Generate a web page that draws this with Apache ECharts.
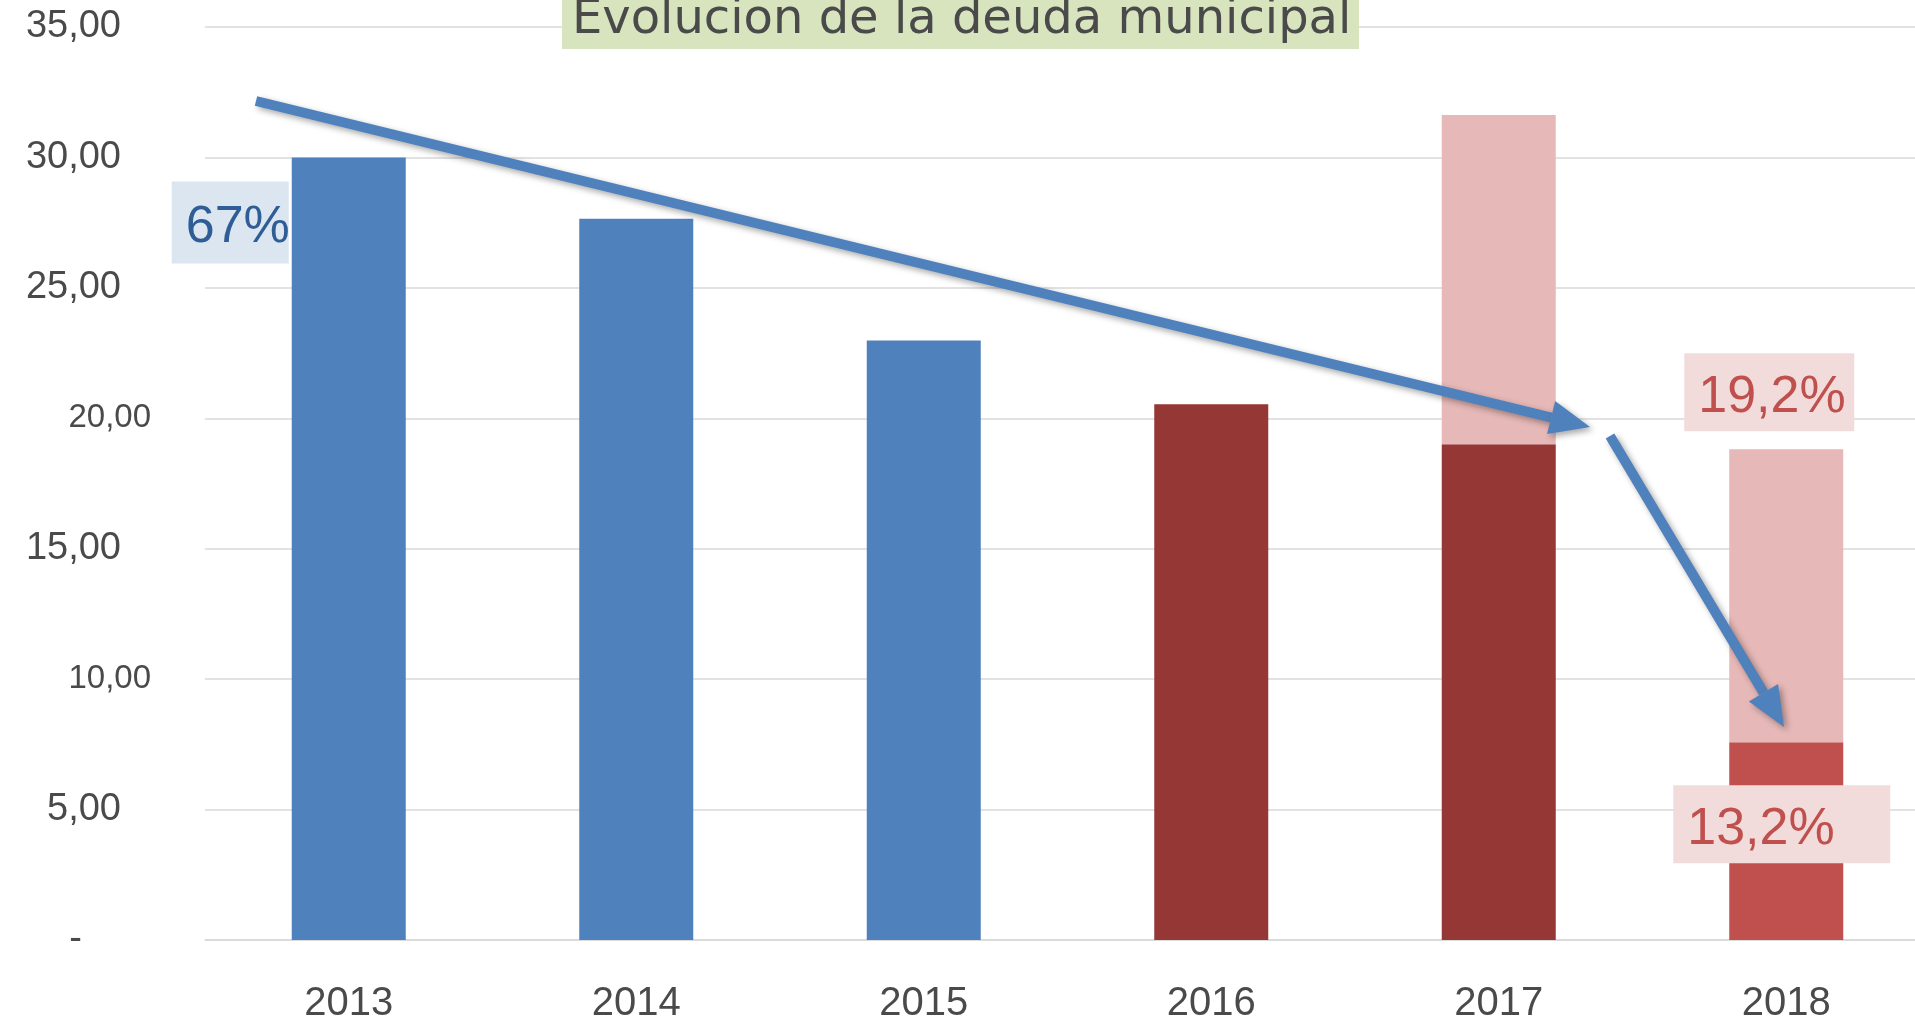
<!DOCTYPE html>
<html lang="es">
  <head>
    <meta charset="UTF-8" />
    <title>Evolucion de la deuda municipal</title>
    <script src="https://cdn.jsdelivr.net/npm/echarts@6/dist/echarts.min.js"></script>
    <style>
      html, body { margin: 0; padding: 0; background: #fff; }
      #chart { width: 1915px; height: 1020px; }
    </style>
  </head>
  <body>
    <div id="chart"></div>
    <script>
      // datos
      const years = ['2013', '2014', '2015', '2016', '2017', '2018']
      const deudaAzul = [30.0, 27.65, 22.98, '-', '-', '-']
      const deudaGranate = ['-', '-', '-', 20.54, 19.0, '-']
      const deudaRoja = ['-', '-', '-', '-', '-', 7.58]
      const exceso = ['-', '-', '-', '-', 12.63, 11.23]
      const yTicks = [0, 5, 10, 15, 20, 25, 30, 35]
      const notas = [
        { text: '67%', year: '2013', value: 30.0 },
        { text: '19,2%', year: '2018', value: 18.81 },
        { text: '13,2%', year: '2018', value: 7.58 }
      ]

      const chart = echarts.init(document.getElementById('chart'))

      const fmt = v => v.toFixed(2).replace('.', ',')

      let bar = (name, data, color) => ({
        name,
        type: 'bar',
        stack: 'deuda',
        barWidth: 114,
        data,
        itemStyle: { color },
        emphasis: { disabled: true }
      })

      chart.setOption({
        animation: false,
        grid: { left: 205, top: 27, width: 1725, height: 913, outerBoundsMode: 'none', containLabel: false },
        xAxis: {
          type: 'category',
          data: years,
          axisLine: { show: true, lineStyle: { color: '#d9d9d9', width: 1.5 } },
          axisTick: { show: false },
          axisLabel: {
            margin: 44,
            fontSize: 40,
            fontFamily: 'Liberation Sans',
            color: '#4a4a4a'
          }
        },
        yAxis: {
          type: 'value',
          min: yTicks[0],
          max: yTicks[yTicks.length - 1],
          interval: 5,
          axisLine: { show: false },
          axisTick: { show: false },
          splitLine: { lineStyle: { color: '#d9d9d9', width: 1.5 } },
          axisLabel: {
            margin: 54,
            formatter: v => {
              if (v === 0) return '{z|-}'
              if (v === 10 || v === 20) return '{s|' + fmt(v) + '}'
              return '{b|' + fmt(v) + '}'
            },
            rich: {
              b: { fontSize: 38, fontFamily: 'Liberation Sans', color: '#4a4a4a', padding: [0, 30, 0, 0] },
              s: { fontSize: 33, fontFamily: 'Liberation Sans', color: '#4a4a4a' },
              z: { fontSize: 38, fontFamily: 'Liberation Sans', color: '#4a4a4a', padding: [0, 69, 0, 0] }
            }
          }
        },
        series: [
          bar('azul', deudaAzul, '#4f81bd'),
          bar('granate', deudaGranate, '#953735'),
          bar('roja', deudaRoja, '#c0504d'),
          bar('exceso', exceso, '#e6b8b7')
        ]
      })

      // cajas de texto ancladas a las barras
      const cajas = [
        { dx: -177, dy: 24, w: 117, h: 82, bg: '#dce6f1', fg: '#2f5d96' },
        { dx: -102, dy: -96, w: 170, h: 78, bg: '#f2dcdb', fg: '#c0504d' },
        { dx: -113, dy: 43, w: 217, h: 78, bg: '#f2dcdb', fg: '#c0504d' }
      ]
      const elementos = []
      notas.forEach((n, i) => {
        const c = cajas[i]
        const p = chart.convertToPixel({ gridIndex: 0 }, [n.year, n.value])
        const x = p[0] + c.dx
        const y = p[1] + c.dy
        elementos.push({
          type: 'rect', z: 20,
          shape: { x, y, width: c.w, height: c.h },
          style: { fill: c.bg }
        })
        elementos.push({
          type: 'text', z: 21,
          style: {
            text: n.text, x: x + 14, y: y + c.h / 2 + 5,
            fontSize: 52, fontFamily: 'Liberation Sans',
            fill: c.fg, verticalAlign: 'middle', align: 'left'
          }
        })
      })

      // flechas
      let flecha = (x1, y1, x2, y2) => {
        const ang = Math.atan2(y2 - y1, x2 - x1)
        const L = 40, W = 17
        const bx = x2 - L * Math.cos(ang), by = y2 - L * Math.sin(ang)
        const nx = -Math.sin(ang), ny = Math.cos(ang)
        const sombra = { shadowBlur: 6, shadowColor: 'rgba(0,0,0,0.35)', shadowOffsetX: 3, shadowOffsetY: 3 }
        return [
          {
            type: 'line', z: 30,
            shape: { x1, y1, x2: bx, y2: by },
            style: Object.assign({ stroke: '#4f81bd', lineWidth: 10 }, sombra)
          },
          {
            type: 'polygon', z: 30,
            shape: { points: [[x2, y2], [bx + nx * W, by + ny * W], [bx - nx * W, by - ny * W]] },
            style: Object.assign({ fill: '#4f81bd' }, sombra)
          }
        ]
      }
      elementos.push(...flecha(256, 101, 1590, 427))
      elementos.push(...flecha(1610, 436, 1784, 727))

      // titulo
      elementos.push({
        type: 'rect', z: 40,
        shape: { x: 562, y: 0, width: 797, height: 49 },
        style: { fill: '#d7e4bd' }
      })
      elementos.push({
        type: 'text', z: 41,
        style: {
          text: 'Evolucion de la deuda municipal', x: 572, y: 21,
          fontSize: 48, fontFamily: 'DejaVu Sans', fill: '#4a4a4a',
          verticalAlign: 'middle', align: 'left'
        }
      })

      chart.setOption({ graphic: elementos })
    </script>
  </body>
</html>
